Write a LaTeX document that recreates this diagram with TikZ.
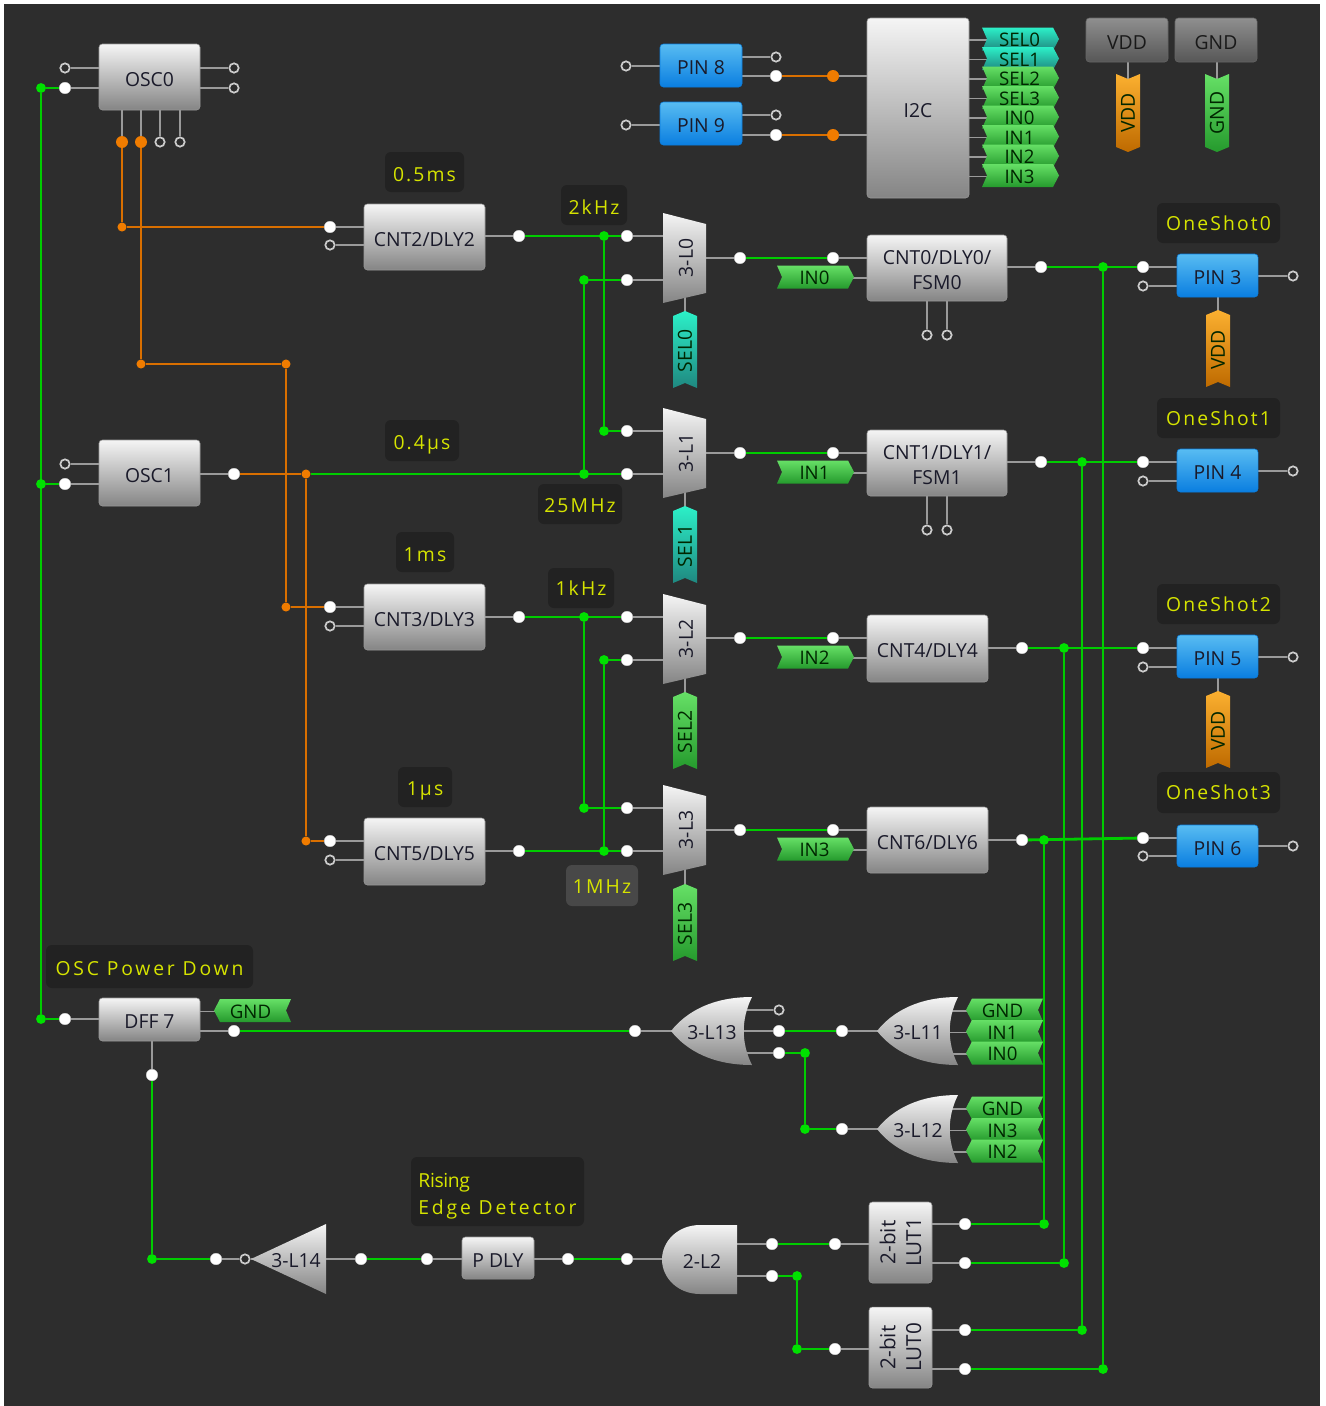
\documentclass[tikz,border=0pt]{standalone}
\usepackage{fontspec}
\setmainfont{Open Sans}
\newfontfamily\lblfont[LetterSpace=11]{Open Sans}
\newfontfamily\lblwide[LetterSpace=14.5]{Open Sans}
\newfontfamily\lblnarrow[LetterSpace=-2]{Open Sans}
\pgfdeclarelayer{wires}
\pgfsetlayers{wires,main}
\definecolor{panel}{HTML}{2D2D2D}
\definecolor{lblbg}{HTML}{222222}
\definecolor{lblhi}{HTML}{484848}
\definecolor{lbltxt}{HTML}{D6E400}
\definecolor{wireG}{HTML}{00CC00}
\definecolor{wireO}{HTML}{D96F00}
\definecolor{juncO}{HTML}{F07C00}
\definecolor{stubc}{HTML}{9A9A9A}
\definecolor{ink}{HTML}{1A1A2A}
\definecolor{gTop}{HTML}{66E066}
\definecolor{gBot}{HTML}{259A2D}
\definecolor{tTop}{HTML}{2CF0C8}
\definecolor{tBot}{HTML}{1F8880}
\definecolor{oTop}{HTML}{FBB030}
\definecolor{oBot}{HTML}{BE6A00}
\definecolor{bTop}{HTML}{58BCF2}
\definecolor{bBot}{HTML}{0A7EE0}
\tikzset{
  x=0.75pt,y=-0.75pt,
  pinF/.style={circle,fill=white,draw=white!85!black,line width=.3pt,inner sep=0,minimum size=8.6pt},
  pinO/.style={circle,fill=panel,draw=white!80!black,line width=1.3pt,inner sep=0,minimum size=7pt},
  juncG/.style={circle,fill=green!88!black,inner sep=0,minimum size=7.4pt},
  juncO/.style={circle,fill=juncO,inner sep=0,minimum size=6.8pt},
  juncOB/.style={circle,fill=juncO,inner sep=0,minimum size=9pt},
  gw/.style={draw=wireG,line width=2.1pt},
  ow/.style={draw=wireO,line width=2.1pt},
  stub/.style={draw=stubc,line width=1.2pt},
  grayblk/.style={top color=white!96!black,bottom color=black!48,draw=black!40,line width=.4pt,rounded corners=2.5pt,text=ink,font=\fontsize{14.5pt}{19pt}\selectfont,align=center,inner sep=0},
  blueblk/.style={grayblk,top color=bTop,bottom color=bBot,draw=bBot},
  darkblk/.style={grayblk,top color=black!44,bottom color=black!66,draw=black!60,text=black!90},
  gate/.style={top color=white!96!black,bottom color=black!48},
  gtag/.style={top color=gTop,bottom color=gBot},
  ttag/.style={top color=tTop,bottom color=tBot},
  otag/.style={top color=oTop,bottom color=oBot},
  gatetxt/.style={text=ink,inner sep=0,font=\fontsize{14.5pt}{18pt}\selectfont},
  tagtxt/.style={text=black!85!green,inner sep=0,font=\fontsize{14pt}{16pt}\selectfont},
  vtagtxt/.style={text=black!85!green,inner sep=0,rotate=90,font=\fontsize{14.5pt}{16pt}\selectfont},
  lblbox/.style={fill=lblbg,rounded corners=4.5pt,text=lbltxt,inner sep=0,align=center,font=\lblfont\fontsize{14.5pt}{20.25pt}\selectfont},
}
\newcommand\PF[3]{\node[pinF] (#1) at (#2,#3) {};}
\newcommand\PO[3]{\node[pinO] (#1) at (#2,#3) {};}
\newcommand\JG[3]{\node[juncG] (#1) at (#2,#3) {};}
\newcommand\JO[3]{\node[juncO] (#1) at (#2,#3) {};}
\newcommand\JOB[3]{\node[juncOB] (#1) at (#2,#3) {};}
% name x1 y1 x2 y2 text style
\newcommand\myBlk[7]{\node[#7,minimum width={(#4-#2)*0.75pt},minimum height={(#5-#3)*0.75pt}] (#1) at ({(#2+#4)/2},{(#3+#5)/2}) {\rule{0pt}{14pt}#6};}
\newcommand\myBlkN[7]{\node[#7,minimum width={(#4-#2)*0.75pt},minimum height={(#5-#3)*0.75pt}] (#1) at ({(#2+#4)/2},{(#3+#5)/2}) {#6};}
% style, x1 y1 x2 y2, text-centre offset in px, text
\newcommand\myLbl[7][lblbox]{\node[#1,minimum width={(#5-#3)*0.75pt},minimum height={(#6-#4)*0.75pt}] at ({(#3+#5)/2},{(#4+#6)/2}) {\raisebox{\dimexpr-#2pt*3/4-5.175pt\relax}[0pt][0pt]{#7}};}
% name x yc text style : points right
\newcommand\tagR[5]{\path[#5] (#2,#3-11.5)--(#2+71,#3-11.5)--(#2+77,#3)--(#2+71,#3+11.5)--(#2,#3+11.5)--(#2+5,#3)--cycle;
  \node[tagtxt] (#1) at (#2+37.5,#3+1) {#4};}
% points left
\newcommand\tagL[5]{\path[#5] (#2,#3)--(#2+6,#3-11.5)--(#2+77,#3-11.5)--(#2+72,#3)--(#2+77,#3+11.5)--(#2+6,#3+11.5)--cycle;
  \node[tagtxt] (#1) at (#2+36.5,#3+1) {#4};}
% name xc ytop text style : points up
\newcommand\tagU[5]{\path[#5] (#2,#3)--(#2+12,#3+5)--(#2+12,#3+77)--(#2,#3+72)--(#2-12,#3+77)--(#2-12,#3+5)--cycle;
  \node[vtagtxt] (#1) at (#2,#3+40) {#4};}
% points down
\newcommand\tagD[5]{\path[#5] (#2-12,#3)--(#2,#3+5)--(#2+12,#3)--(#2+12,#3+73)--(#2,#3+78)--(#2-12,#3+73)--cycle;
  \node[vtagtxt] (#1) at (#2,#3+39) {#4};}
\newcommand\myMux[3]{\path[gate] (663,#2)--(706,#2+11)--(706,#2+80)--(663,#2+90)--cycle;
  \node[gatetxt,rotate=90] (#1) at (686,#2+45) {#3};}
\newcommand\myOr[4]{\path[gate] (#2+81,#3-34) .. controls (#2+42,#3-34) and (#2+16,#3-20) .. (#2,#3) .. controls (#2+16,#3+20) and (#2+42,#3+34) .. (#2+81,#3+34) .. controls (#2+70,#3+12) and (#2+70,#3-12) .. cycle;
  \node[gatetxt] (#1) at (#2+41,#3+2) {#4};}
\begin{document}
\begin{tikzpicture}
\useasboundingbox (0,0) rectangle (1326,1406);
\begin{pgfonlayer}{wires}
\fill[white] (0,0) rectangle (1326,1406);
\fill[panel] (4,4) rectangle (1320,1406);
\end{pgfonlayer}

% ---------- blocks
\myBlk{osc0}{99}{44}{200}{110}{OSC0}{grayblk}
\myBlk{osc1}{99}{440}{200}{506}{OSC1}{grayblk}
\myBlk{cnt2}{364}{204}{485}{270}{CNT2/DLY2}{grayblk}
\myBlk{cnt3}{364}{584}{485}{650}{CNT3/DLY3}{grayblk}
\myBlk{cnt5}{364}{818}{485}{885}{CNT5/DLY5}{grayblk}
\myBlk{cnt0}{867}{235}{1007}{301}{CNT0/DLY0/\\FSM0}{grayblk}
\myBlk{cnt1}{867}{430}{1007}{496}{CNT1/DLY1/\\FSM1}{grayblk}
\myBlk{cnt4}{867}{615}{988}{682}{CNT4/DLY4}{grayblk}
\myBlk{cnt6}{867}{807}{988}{873}{CNT6/DLY6}{grayblk}
\myBlk{i2c}{867}{18}{969}{198}{I2C}{grayblk}
\myBlk{dff7}{99}{998}{200}{1041}{DFF 7}{grayblk}
\myBlk{pdly}{462}{1237}{534}{1279}{P DLY}{grayblk}
\myBlkN{lut1}{869}{1202}{932}{1283}{\rotatebox{90}{\fontsize{15.5pt}{18pt}\selectfont\shortstack{2-bit\\[5pt]LUT1}}}{grayblk}
\myBlkN{lut0}{869}{1307}{932}{1388}{\rotatebox{90}{\fontsize{15.5pt}{18pt}\selectfont\shortstack{2-bit\\[5pt]LUT0}}}{grayblk}
\myBlk{pin8}{660}{44}{742}{87}{PIN 8}{blueblk}
\myBlk{pin9}{660}{102}{742}{145}{PIN 9}{blueblk}
\myBlk{pin3}{1177}{254}{1258}{297}{PIN 3}{blueblk}
\myBlk{pin4}{1177}{449}{1258}{492}{PIN 4}{blueblk}
\myBlk{pin5}{1177}{635}{1258}{678}{PIN 5}{blueblk}
\myBlk{pin6}{1177}{825}{1258}{867}{PIN 6}{blueblk}
\myBlk{vddb}{1086}{18}{1168}{62}{VDD}{darkblk}
\myBlk{gndb}{1175}{18}{1257}{62}{GND}{darkblk}

% ---------- muxes and gates
\myMux{l0}{213}{3-L0}
\myMux{l1}{408}{3-L1}
\myMux{l2}{594}{3-L2}
\myMux{l3}{785}{3-L3}
\myOr{l13}{671}{1031}{3-L13}
\myOr{l11}{877}{1031}{3-L11}
\myOr{l12}{877}{1129}{3-L12}
\path[gate] (251,1259)--(326,1224)--(326,1294)--cycle;
\node[gatetxt] (l14) at (296,1261) {3-L14};
\path[gate] (737,1225)--(700,1225) .. controls (678,1225) and (662,1241) .. (662,1259.5) .. controls (662,1278) and (678,1294) .. (700,1294)--(737,1294)--cycle;
\node[gatetxt] (l2g) at (702,1261) {2-L2};

% ---------- tags
\tagR{i0}{982}{39}{SEL0}{ttag}
\tagR{i1}{982}{58.5}{SEL1}{ttag}
\tagR{i2}{982}{78}{SEL2}{gtag}
\tagR{i3}{982}{97.5}{SEL3}{gtag}
\tagR{i4}{982}{117}{IN0}{gtag}
\tagR{i5}{982}{136.5}{IN1}{gtag}
\tagR{i6}{982}{156}{IN2}{gtag}
\tagR{i7}{982}{175.5}{IN3}{gtag}
\tagR{t0}{777}{277}{IN0}{gtag}
\tagR{t1}{777}{472}{IN1}{gtag}
\tagR{t2}{777}{657}{IN2}{gtag}
\tagR{t3}{777}{849}{IN3}{gtag}
\tagU{s0}{685}{311}{SEL0}{ttag}
\tagU{s1}{685}{506}{SEL1}{ttag}
\tagU{s2}{685}{692}{SEL2}{gtag}
\tagU{s3}{685}{884}{SEL3}{gtag}
\tagU{v3}{1218}{310}{VDD}{otag}
\tagU{v5}{1218}{691}{VDD}{otag}
\tagD{vddt}{1128}{74}{VDD}{otag}
\tagD{gndt}{1217}{74}{GND}{gtag}
\tagL{g7}{214}{1010.5}{GND}{gtag}
\tagL{a0}{966}{1010}{GND}{gtag}
\tagL{a1}{966}{1031.5}{IN1}{gtag}
\tagL{a2}{966}{1053}{IN0}{gtag}
\tagL{b0}{966}{1108}{GND}{gtag}
\tagL{b1}{966}{1129.5}{IN3}{gtag}
\tagL{b2}{966}{1151}{IN2}{gtag}

% ---------- labels
\myLbl{3}{385}{152}{464}{192}{0.5ms}
\myLbl{3}{561}{185}{627}{225}{2kHz}
\myLbl{2.5}{385}{420}{459}{461}{0.4µs}
\myLbl{2}{538}{484}{622}{524}{25MHz}
\myLbl{3}{396}{532}{454}{572}{1ms}
\myLbl{1}{548}{568}{614}{608}{1kHz}
\myLbl{2}{398}{767}{452}{807}{1µs}
\myLbl[lblbox,fill=lblhi]{1.5}{566}{865}{638}{906}{1MHz}
\myLbl{1}{1157}{203}{1280}{243}{OneShot0}
\myLbl{1}{1157}{398}{1280}{438}{OneShot1}
\myLbl{1}{1157}{584}{1280}{624}{OneShot2}
\myLbl{0.5}{1157}{772}{1280}{813}{OneShot3}
\myLbl{2.5}{46}{945}{253}{988}{\lblwide OSC Power Down}
\node[lblbox,align=left,minimum width={173*0.75pt},minimum height={69*0.75pt}] at (497.5,1191.5) {\rule{0pt}{17pt}{\lblnarrow Rising}\\\lblwide Edge Detector};

% ---------- pins
\PO{oa}{65}{68} \PF{ob}{65}{88} \PO{oc}{234}{68} \PO{od}{234}{88}
\JOB{oe}{122}{142} \JOB{of}{141}{142} \PO{og}{160}{142} \PO{oh}{180}{142}
\PO{pa}{65}{464} \PF{pb}{65}{484} \PF{pc}{234}{474}
\PF{c2a}{330}{227} \PO{c2b}{330}{245} \PF{c2c}{519}{236}
\PF{c3a}{330}{607} \PO{c3b}{330}{626} \PF{c3c}{519}{617}
\PF{c5a}{330}{841} \PO{c5b}{330}{860} \PF{c5c}{519}{851}
\PF{m0a}{627}{236} \PF{m0b}{627}{280} \PF{m0c}{740}{258}
\PF{m1a}{627}{431} \PF{m1b}{627}{474} \PF{m1c}{740}{453}
\PF{m2a}{627}{617} \PF{m2b}{627}{660} \PF{m2c}{740}{638}
\PF{m3a}{627}{808} \PF{m3b}{627}{851} \PF{m3c}{740}{830}
\PF{c0a}{833}{258} \PF{c1a}{833}{453} \PF{c4a}{833}{638} \PF{c6a}{833}{830}
\PF{c0b}{1041}{267} \PO{c0c}{927}{335} \PO{c0d}{947}{335}
\PF{c1b}{1041}{462} \PO{c1c}{927}{530} \PO{c1d}{947}{530}
\PF{c4b}{1022}{648} \PF{c6b}{1022}{840}
\PF{p3a}{1143}{267} \PO{p3b}{1143}{286} \PO{p3c}{1293}{276}
\PF{p4a}{1143}{462} \PO{p4b}{1143}{481} \PO{p4c}{1293}{471}
\PF{p5a}{1143}{648} \PO{p5b}{1143}{667} \PO{p5c}{1293}{657}
\PF{p6a}{1143}{838} \PO{p6b}{1143}{856} \PO{p6c}{1293}{846}
\PO{p8a}{626}{66} \PO{p8b}{776}{57} \PF{p8c}{776}{76}
\PO{p9a}{626}{125} \PO{p9b}{776}{115} \PF{p9c}{776}{135}
\PF{da}{65}{1019} \PF{db}{234}{1031} \PF{dc}{152}{1075}
\PF{la}{216}{1259} \PO{lb}{245}{1259} \PF{lc}{361}{1259}
\PF{pda}{427}{1259} \PF{pdb}{568}{1259}
\PF{ga}{627}{1259} \PF{gb}{772}{1244} \PF{gc}{772}{1276}
\PF{ua}{835}{1244} \PF{ub}{965}{1224} \PF{uc}{965}{1263}
\PF{va}{835}{1349} \PF{vb}{965}{1330} \PF{vc}{965}{1369}
\PF{xa}{635}{1031} \PO{xb}{779}{1010} \PF{xc}{779}{1031} \PF{xd}{779}{1053}
\PF{ya}{842}{1031} \PF{za}{842}{1129}

% ---------- junctions
\JG{j1}{41}{88} \JG{j2}{41}{484} \JG{j3}{41}{1019}
\JO{k1}{122}{227} \JO{k2}{141}{364} \JO{k3}{286}{364} \JO{k4}{286}{607}
\JO{k5}{306}{474} \JO{k6}{306}{841} \JOB{k8}{833}{76} \JOB{k9}{833}{135}
\JG{j4}{604}{236} \JG{j5}{604}{431} \JG{j6}{584}{280} \JG{j7}{584}{474}
\JG{j8}{584}{617} \JG{j9}{584}{808} \JG{j10}{604}{660} \JG{j11}{604}{851}
\JG{j12}{1103}{267} \JG{j13}{1082}{462} \JG{j14}{1064}{648} \JG{j15}{1044}{840}
\JG{j16}{805}{1053} \JG{j17}{805}{1129} \JG{j18}{152}{1259} \JG{j19}{797}{1276} \JG{j20}{797}{1349}
\JG{j21}{1044}{1224} \JG{j22}{1064}{1263} \JG{j23}{1082}{1330} \JG{j24}{1103}{1369}

\begin{pgfonlayer}{wires}
% grey stubs, running under the blocks
\foreach \p/\b in {oa/osc0,ob/osc0,oc/osc0,od/osc0,pa/osc1,pb/osc1,pc/osc1,
  c2a/cnt2,c2b/cnt2,c2c/cnt2,c3a/cnt3,c3b/cnt3,c3c/cnt3,c5a/cnt5,c5b/cnt5,c5c/cnt5,
  m0a/l0,m0b/l0,m0c/l0,m1a/l1,m1b/l1,m1c/l1,m2a/l2,m2b/l2,m2c/l2,m3a/l3,m3b/l3,m3c/l3,
  c0a/cnt0,t0/cnt0,c0b/cnt0,c1a/cnt1,t1/cnt1,c1b/cnt1,c4a/cnt4,t2/cnt4,c4b/cnt4,c6a/cnt6,t3/cnt6,c6b/cnt6,
  p3a/pin3,p3b/pin3,p3c/pin3,p4a/pin4,p4b/pin4,p4c/pin4,p5a/pin5,p5b/pin5,p5c/pin5,p6a/pin6,p6b/pin6,p6c/pin6,
  p8a/pin8,p8b/pin8,p8c/pin8,p9a/pin9,p9b/pin9,p9c/pin9,k8/i2c,k9/i2c,
  i0/i2c,i1/i2c,i2/i2c,i3/i2c,i4/i2c,i5/i2c,i6/i2c,i7/i2c,
  da/dff7,db/dff7,g7/dff7,lb/l14,lc/l14,pda/pdly,pdb/pdly,ga/l2g,gb/l2g,gc/l2g,
  ua/lut1,ub/lut1,uc/lut1,va/lut0,vb/lut0,vc/lut0,
  xa/l13,xb/l13,xc/l13,xd/l13,ya/l11,a0/l11,a1/l11,a2/l11,za/l12,b0/l12,b1/l12,b2/l12}
  {\draw[stub] (\p) -- (\p -| \b);}
\foreach \p/\b in {oe/osc0,of/osc0,og/osc0,oh/osc0,c0c/cnt0,c0d/cnt0,c1c/cnt1,c1d/cnt1,dc/dff7,
  s0/l0,s1/l1,s2/l2,s3/l3,v3/pin3,v5/pin5,vddt/vddb,gndt/gndb}
  {\draw[stub] (\p) -- (\p |- \b);}
\draw[stub] (la) -- (lb);
% orange wires
\draw[ow] (oe) -- (k1) -- (c2a);
\draw[ow] (of) -- (k2) -- (k3) -- (k4) -- (c3a);
\draw[ow] (pc) -- (k5) -- (k6) -- (c5a);
\draw[ow] (p8c) -- (k8);
\draw[ow] (p9c) -- (k9);
% green wires
\draw[gw] (j1) -- (j3);
\draw[gw] (j1) -- (ob);
\draw[gw] (j2) -- (pb);
\draw[gw] (j3) -- (da);
\draw[gw] (k5) -- (m1b);
\draw[gw] (c2c) -- (m0a);
\draw[gw] (j4) -- (j5) -- (m1a);
\draw[gw] (j7) -- (j6) -- (m0b);
\draw[gw] (c3c) -- (m2a);
\draw[gw] (j8) -- (j9) -- (m3a);
\draw[gw] (c5c) -- (m3b);
\draw[gw] (j11) -- (j10) -- (m2b);
\draw[gw] (m0c) -- (c0a);
\draw[gw] (m1c) -- (c1a);
\draw[gw] (m2c) -- (c4a);
\draw[gw] (m3c) -- (c6a);
\draw[gw] (c0b) -- (p3a);
\draw[gw] (c1b) -- (p4a);
\draw[gw] (c4b) -- (p5a);
\draw[gw] (c6b) -- (p6a);
\draw[gw] (j24) -- (j12);
\draw[gw] (j23) -- (j13);
\draw[gw] (j22) -- (j14);
\draw[gw] (j21) -- (j15);
\draw[gw] (ub) -- (j21);
\draw[gw] (uc) -- (j22);
\draw[gw] (vb) -- (j23);
\draw[gw] (vc) -- (j24);
\draw[gw] (db) -- (xa);
\draw[gw] (xc) -- (ya);
\draw[gw] (xd) -- (j16) -- (j17) -- (za);
\draw[gw] (dc) -- (j18) -- (la);
\draw[gw] (lc) -- (pda);
\draw[gw] (pdb) -- (ga);
\draw[gw] (gb) -- (ua);
\draw[gw] (gc) -- (j19) -- (j20) -- (va);
\end{pgfonlayer}
\end{tikzpicture}
\end{document}
